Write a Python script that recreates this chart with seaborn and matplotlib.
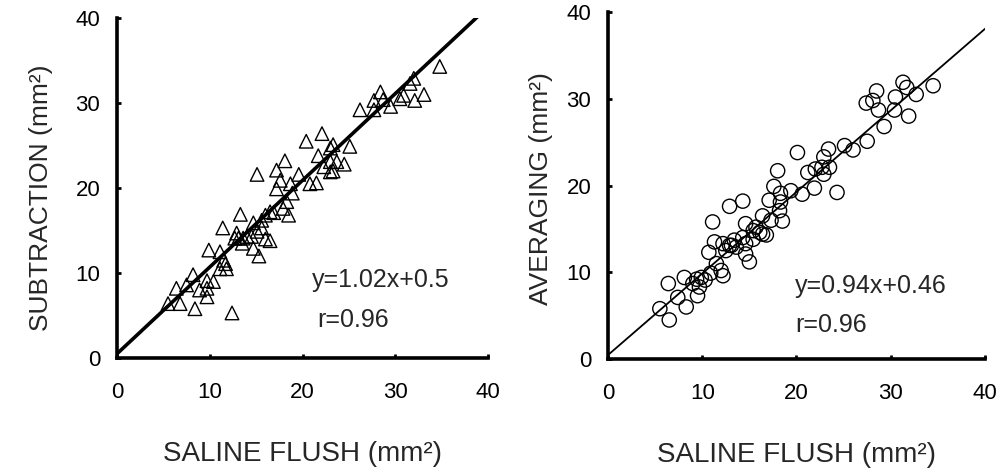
"""Saline flush vs subtraction / averaging scatter plots"""
import numpy as np
import matplotlib
matplotlib.use("Agg")
import matplotlib.pyplot as plt
import seaborn as sns

# ─── data ───
sub_x = [34.8, 32.0, 31.6, 33.1, 32.1, 30.5, 30.9, 28.4, 27.7, 28.7, 29.5, 26.2, 27.7,
         25.1, 24.5, 23.3, 23.0, 22.1, 20.4, 21.7, 23.0, 23.7, 22.3, 23.0, 23.3, 21.5,
         20.8, 19.6, 18.1, 17.2, 17.6, 15.1, 18.7, 17.2, 18.9, 18.3, 18.5, 16.9, 16.0,
         15.6, 14.7, 13.3, 15.1, 14.5, 16.0, 16.5, 12.9, 13.1, 13.5, 13.6, 11.4, 14.7,
         15.3, 9.9, 11.1, 11.5, 11.8, 11.1, 8.2, 9.7, 10.4, 9.7, 9.7, 6.4, 7.5, 5.5,
         6.8, 8.4, 12.4, 8.9, 17.9, 16.5, 14.0, 12.7, 15.6, 11.7]
sub_y = [34.3, 32.9, 32.3, 31.0, 30.3, 30.5, 30.9, 31.3, 30.3, 30.4, 29.6, 29.2, 29.2,
         24.9, 22.8, 25.1, 24.7, 26.4, 25.5, 23.8, 23.1, 23.1, 22.5, 21.9, 22.0, 20.6,
         20.5, 21.6, 23.2, 22.1, 20.9, 21.6, 20.5, 19.9, 19.4, 18.4, 16.8, 17.1, 16.8,
         16.2, 15.9, 16.9, 14.9, 14.3, 14.0, 13.8, 14.7, 14.1, 13.5, 14.1, 15.3, 12.9,
         12.0, 12.7, 12.5, 11.5, 10.5, 10.5, 9.8, 9.1, 9.0, 8.2, 7.2, 8.2, 8.6, 6.4,
         6.4, 5.8, 5.3, 8.0, 17.6, 17.2, 14.3, 14.1, 15.3, 11.1]

avg_x = [34.5, 31.3, 31.7, 32.7, 30.5, 28.5, 27.4, 28.1, 28.7, 30.4, 31.9, 29.3, 27.5,
         26.0, 25.1, 23.4, 22.9, 20.1, 23.5, 22.7, 22.0, 21.2, 22.9, 18.0, 21.9, 20.6,
         19.4, 24.3, 17.6, 18.3, 17.1, 18.3, 18.2, 18.5, 16.4, 17.3, 14.3, 12.9, 14.6,
         15.7, 16.8, 16.1, 15.4, 14.3, 13.4, 13.1, 12.5, 13.6, 14.6, 14.6, 15.0, 11.1,
         11.3, 10.7, 11.5, 12.0, 12.2, 10.9, 9.9, 9.4, 9.0, 9.7, 9.5, 8.1, 6.4, 7.4,
         8.3, 5.5, 6.5, 12.9, 12.2, 15.4, 16.4, 10.3]
avg_y = [31.5, 31.9, 31.3, 30.5, 30.2, 30.9, 29.5, 29.8, 28.7, 28.7, 28.0, 26.8, 25.1,
         24.1, 24.6, 24.2, 23.3, 23.8, 22.1, 22.1, 21.9, 21.5, 21.3, 21.7, 19.7, 19.0,
         19.4, 19.2, 19.9, 19.1, 18.3, 18.1, 17.1, 15.9, 16.5, 16.0, 18.2, 17.6, 15.6,
         15.2, 14.3, 14.6, 13.8, 14.0, 13.7, 13.1, 12.5, 12.9, 13.3, 12.1, 11.2, 15.8,
         13.5, 12.3, 11.0, 10.2, 9.6, 9.9, 9.4, 9.2, 8.7, 8.3, 7.3, 9.4, 8.7, 7.1,
         6.0, 5.8, 4.5, 13.1, 13.3, 14.8, 14.4, 9.1]

# regression lines from the paper
fit_sub = (1.02, 0.5)
fit_avg = (0.94, 0.46)
labels_sub = ["y=1.02x+0.5", "r=0.96"]
labels_avg = ["y=0.94x+0.46", "r=0.96"]
ticks = [0, 10, 20, 30, 40]

sns.set_theme(style="ticks")
plt.rcParams["font.family"] = ["Liberation Sans", "DejaVu Sans"]

fig = plt.figure(figsize=(10.01, 4.75), dpi=100)
ax1 = fig.add_axes([0.1169, 0.2463, 0.3706, 0.7158])
ax2 = fig.add_axes([0.6074, 0.2442, 0.3766, 0.7305])

panels = [
    (ax1, sub_x, sub_y, "^", fit_sub, 2.6, labels_sub, "SUBTRACTION (mm²)",
     (-0.172, 0.47), -0.245, (0.526, 0.209), (0.539, 0.091)),
    (ax2, avg_x, avg_y, "o", fit_avg, 1.3, labels_avg, "AVERAGING (mm²)",
     (-0.146, 0.49), -0.238, (0.496, 0.190), (0.496, 0.078)),
]

for ax, xs, ys, mk, fit, lw, txt, ylab, ylab_pos, xlab_y, t1, t2 in panels:
    sns.scatterplot(x=xs, y=ys, ax=ax, marker=mk, s=95 if mk == "^" else 105,
                    facecolor="none", edgecolor="black", linewidth=1.0,
                    legend=False, zorder=3)
    line_x = np.array([0, 40])
    sns.lineplot(x=line_x, y=fit[0] * line_x + fit[1], ax=ax,
                 color="black", linewidth=lw, zorder=2)
    ax.set_xlim(0, 40)
    ax.set_ylim(0, 40)
    ax.set_xticks(ticks)
    ax.set_yticks(ticks)
    ax.tick_params(axis="both", direction="in", length=3, width=2,
                   labelsize=16, colors="black")
    ax.tick_params(axis="x", pad=17)
    ax.tick_params(axis="y", pad=12)
    for side in ["top", "right"]:
        ax.spines[side].set_visible(False)
    for side in ["left", "bottom"]:
        ax.spines[side].set_linewidth(2.6)
        ax.spines[side].set_color("black")
    ax.set_xlabel("SALINE FLUSH (mm²)", fontsize=20)
    ax.xaxis.set_label_coords(0.5, xlab_y)
    ax.set_ylabel(ylab, fontsize=19)
    ax.yaxis.set_label_coords(*ylab_pos)
    ax.text(t1[0], t1[1], txt[0], transform=ax.transAxes, fontsize=18,
            ha="left", va="baseline")
    ax.text(t2[0], t2[1], txt[1], transform=ax.transAxes, fontsize=18,
            ha="left", va="baseline")
    ax.set_facecolor("white")

fig.savefig("out.png", dpi=100, facecolor="white")
